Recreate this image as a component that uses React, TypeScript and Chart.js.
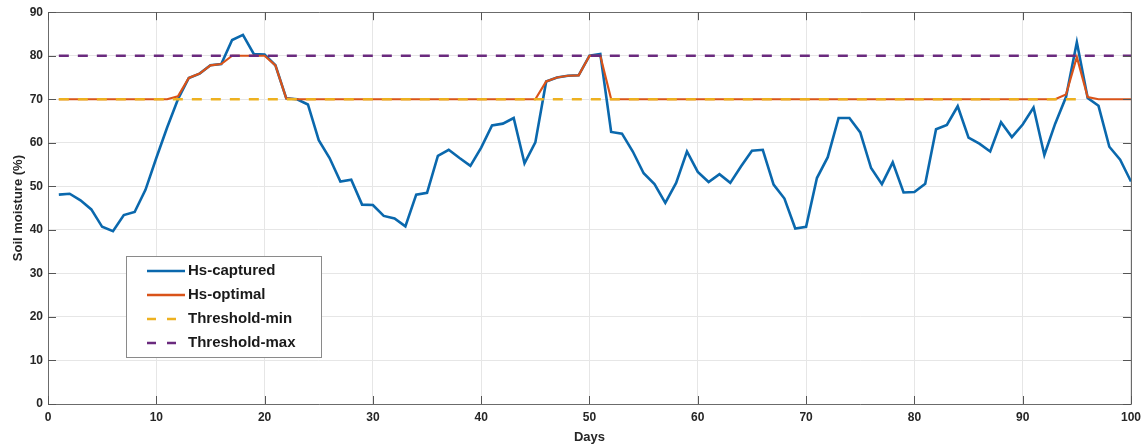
import React, { useEffect, useRef } from 'react';
import { Chart, registerables } from 'chart.js';

Chart.register(...registerables);

// Day index (x categories)
const days: number[] = Array.from({ length: 100 }, (_, i) => i + 1);

// Soil moisture captured (%)
const hsCaptured: number[] = [
  48.1, 48.3, 46.8, 44.7, 40.7, 39.7, 43.4, 44.1, 49.2, 56.5,
  63.5, 70.0, 74.9, 75.9, 77.8, 78.1, 83.6, 84.8, 80.4, 80.3,
  77.8, 70.2, 70.0, 68.8, 60.6, 56.5, 51.1, 51.5, 45.8, 45.7,
  43.2, 42.6, 40.8, 48.1, 48.5, 57.0, 58.4, 56.5, 54.7, 58.9,
  64.0, 64.4, 65.7, 55.3, 60.1, 74.1, 75.0, 75.4, 75.5, 80.0,
  80.4, 62.5, 62.1, 58.0, 53.0, 50.5, 46.2, 50.8, 58.0, 53.3,
  51.0, 52.8, 50.8, 54.6, 58.2, 58.4, 50.4, 47.2, 40.3, 40.7,
  51.9, 56.7, 65.7, 65.7, 62.4, 54.2, 50.5, 55.5, 48.6, 48.7,
  50.6, 63.1, 64.1, 68.4, 61.2, 59.8, 58.0, 64.7, 61.3, 64.2,
  68.1, 57.2, 64.4, 70.5, 83.1, 70.3, 68.5, 59.1, 56.1, 51.1,
];

// Soil moisture optimal (%)
const hsOptimal: number[] = [
  70, 70, 70, 70, 70, 70, 70, 70, 70, 70,
  70, 70.7, 74.9, 75.9, 77.8, 78.1, 80, 80, 80, 80,
  77.8, 70.2, 70, 70, 70, 70, 70, 70, 70, 70,
  70, 70, 70, 70, 70, 70, 70, 70, 70, 70,
  70, 70, 70, 70, 70, 74.1, 75.0, 75.4, 75.5, 80,
  80, 70, 70, 70, 70, 70, 70, 70, 70, 70,
  70, 70, 70, 70, 70, 70, 70, 70, 70, 70,
  70, 70, 70, 70, 70, 70, 70, 70, 70, 70,
  70, 70, 70, 70, 70, 70, 70, 70, 70, 70,
  70, 70, 70, 71.1, 79.7, 70.5, 70, 70, 70, 70,
];

// Thresholds (start/end day and value)
const thresholdMinDays: number[] = [1, 95];
const thresholdMinValues: number[] = [70, 70];
const thresholdMaxDays: number[] = [1, 100];
const thresholdMaxValues: number[] = [80, 80];

const xTicks: number[] = [0, 10, 20, 30, 40, 50, 60, 70, 80, 90, 100];
const yTicks: number[] = [0, 10, 20, 30, 40, 50, 60, 70, 80, 90];

const seriesNames = ['Hs-captured', 'Hs-optimal', 'Threshold-min', 'Threshold-max'];

const BLUE = '#0a68ad';
const ORANGE = '#d95319';
const YELLOW = '#edb120';
const PURPLE = '#6a2a7e';
const FONT = "'Liberation Sans', Arial, sans-serif";

const framePlugin = {
  id: 'frame',
  afterDraw(chart: any) {
    const { ctx, chartArea } = chart;
    const { left, right, top, bottom } = chartArea;
    const xs = chart.scales.x;
    const ys = chart.scales.y;
    ctx.save();
    ctx.strokeStyle = '#6b6b6b';
    ctx.lineWidth = 1;
    ctx.beginPath();
    ctx.rect(Math.round(left) + 0.5, Math.round(top) + 0.5, Math.round(right - left), Math.round(bottom - top));
    ctx.stroke();
    const tl = 8;
    ctx.strokeStyle = '#555555';
    ctx.beginPath();
    xTicks.forEach((t) => {
      const x = Math.round(xs.getPixelForValue(t)) + 0.5;
      ctx.moveTo(x, bottom);
      ctx.lineTo(x, bottom - tl);
      ctx.moveTo(x, top);
      ctx.lineTo(x, top + tl);
    });
    yTicks.forEach((t) => {
      const y = Math.round(ys.getPixelForValue(t)) + 0.5;
      ctx.moveTo(left, y);
      ctx.lineTo(left + tl, y);
      ctx.moveTo(right, y);
      ctx.lineTo(right - tl, y);
    });
    ctx.stroke();

    // Legend box
    const bx = 126, by = 256, bw = 195, bh = 101;
    ctx.fillStyle = '#ffffff';
    ctx.fillRect(bx, by, bw, bh);
    ctx.strokeStyle = '#8a8a8a';
    ctx.lineWidth = 1;
    ctx.strokeRect(bx + 0.5, by + 0.5, bw, bh);
    const colors = [BLUE, ORANGE, YELLOW, PURPLE];
    const dashed = [false, false, true, true];
    const rows = [271, 295, 319, 343];
    ctx.font = `bold 15px ${FONT}`;
    ctx.textBaseline = 'middle';
    ctx.textAlign = 'left';
    seriesNames.forEach((name, i) => {
      ctx.strokeStyle = colors[i];
      ctx.lineWidth = 2.5;
      ctx.setLineDash(dashed[i] ? [9, 11] : []);
      ctx.beginPath();
      ctx.moveTo(147, rows[i]);
      ctx.lineTo(185, rows[i]);
      ctx.stroke();
      ctx.setLineDash([]);
      ctx.fillStyle = '#1a1a1a';
      ctx.fillText(name, 188, rows[i]);
    });
    ctx.restore();
  },
};

export default function App() {
  const ref = useRef<HTMLCanvasElement>(null);
  useEffect(() => {
    document.body.style.margin = '0';
    const canvas = ref.current!;
    const toPts = (xsArr: number[], ysArr: number[]) => xsArr.map((x, i) => ({ x, y: ysArr[i] }));
    const chart = new Chart(canvas, {
      type: 'line',
      data: {
        datasets: [
          {
            label: seriesNames[0],
            data: toPts(days, hsCaptured),
            borderColor: BLUE,
            borderWidth: 2.6,
            pointRadius: 0,
            tension: 0,
            order: 4,
          },
          {
            label: seriesNames[1],
            data: toPts(days, hsOptimal),
            borderColor: ORANGE,
            borderWidth: 2.2,
            pointRadius: 0,
            tension: 0,
            order: 3,
          },
          {
            label: seriesNames[2],
            data: toPts(thresholdMinDays, thresholdMinValues),
            borderColor: YELLOW,
            borderWidth: 2.6,
            borderDash: [10, 9],
            pointRadius: 0,
            tension: 0,
            order: 2,
          },
          {
            label: seriesNames[3],
            data: toPts(thresholdMaxDays, thresholdMaxValues),
            borderColor: PURPLE,
            borderWidth: 2.5,
            borderDash: [10, 9],
            pointRadius: 0,
            tension: 0,
            order: 1,
          },
        ],
      },
      options: {
        responsive: false,
        animation: false,
        events: [],
        layout: { padding: { top: 11, right: 16, left: 0, bottom: 0 } },
        plugins: {
          legend: { display: false },
          tooltip: { enabled: false },
        },
        scales: {
          x: {
            type: 'linear',
            min: 0,
            max: 100,
            afterBuildTicks: (s: any) => {
              s.ticks = xTicks.map((v) => ({ value: v }));
            },
            afterFit: (s: any) => {
              s.height = 41;
            },
            ticks: {
              color: '#262626',
              font: { family: FONT, size: 12, weight: 'bold' },
              padding: 6,
              maxRotation: 0,
            },
            grid: { color: '#e6e6e6', lineWidth: 1, drawTicks: false },
            border: { display: false },
            title: {
              display: true,
              text: 'Days',
              color: '#262626',
              font: { family: FONT, size: 13, weight: 'bold' },
              padding: { top: 0, bottom: 0 },
            },
          },
          y: {
            type: 'linear',
            min: 0,
            max: 90,
            afterBuildTicks: (s: any) => {
              s.ticks = yTicks.map((v) => ({ value: v }));
            },
            afterFit: (s: any) => {
              s.width = 48;
            },
            ticks: {
              color: '#262626',
              font: { family: FONT, size: 12, weight: 'bold' },
              padding: 5,
            },
            grid: { color: '#e6e6e6', lineWidth: 1, drawTicks: false },
            border: { display: false },
            title: {
              display: true,
              text: 'Soil moisture (%)',
              color: '#262626',
              font: { family: FONT, size: 13, weight: 'bold' },
              padding: { top: 11, bottom: 11 },
            },
          },
        },
      },
      plugins: [framePlugin],
    } as any);
    return () => chart.destroy();
  }, []);
  return <canvas ref={ref} width={1147} height={445} style={{ display: 'block' }} />;
}
